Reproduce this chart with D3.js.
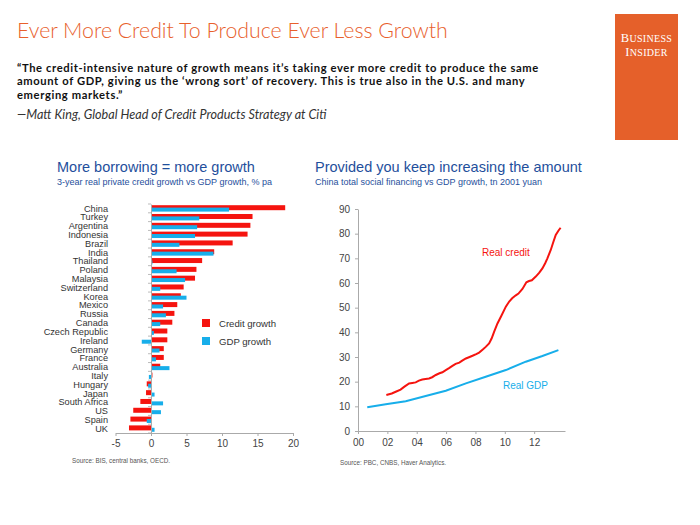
<!DOCTYPE html>
<html><head><meta charset="utf-8">
<script src="https://cdn.jsdelivr.net/npm/d3@7"></script>
<style>
html,body{margin:0;padding:0;background:#fff;}
svg{display:block;}
</style></head>
<body>
<svg id="c" width="700" height="525"></svg>
<script>
// ---- data ----
const countries = ["China","Turkey","Argentina","Indonesia","Brazil","India","Thailand","Poland","Malaysia","Switzerland","Korea","Mexico","Russia","Canada","Czech Republic","Ireland","Germany","France","Australia","Italy","Hungary","Japan","South Africa","US","Spain","UK"];
const creditGrowth = [18.9,14.3,14.0,13.6,11.5,8.9,7.2,6.4,6.2,4.6,4.2,3.7,3.3,3.0,2.3,2.3,1.8,1.8,1.3,0.2,-0.6,-0.7,-1.5,-2.5,-2.9,-3.1];
const gdpGrowth =    [11.0,6.8,6.5,6.2,4.0,8.8,0.2,3.6,4.8,1.3,5.0,1.7,2.1,1.3,0.4,-1.3,1.2,0.7,2.6,-0.3,-0.4,0.5,1.7,1.4,-0.6,0.5];
const barTicks = [-5,0,5,10,15,20];

const creditYears = [2001.93,2002.3,2002.57,2002.9,2003.14,2003.48,2003.7,2003.93,2004.15,2004.38,2004.6,2004.84,2005.05,2005.3,2005.55,2005.75,2005.98,2006.2,2006.43,2006.65,2006.9,2007.1,2007.35,2007.6,2007.8,2008.05,2008.25,2008.5,2008.7,2008.93,2009.1,2009.27,2009.5,2009.75,2010.07,2010.3,2010.5,2010.75,2010.93,2011.2,2011.47,2011.65,2011.84,2012.11,2012.35,2012.56,2012.75,2012.9,2013.13,2013.3,2013.47,2013.65,2013.8];
const creditValues = [14.6,15.2,15.9,16.8,17.9,19.3,19.5,19.7,20.4,20.9,21.1,21.3,21.8,22.7,23.4,23.8,24.7,25.5,26.4,27.2,27.7,28.5,29.4,30.0,30.5,31.2,31.8,33.0,34.1,35.5,37.5,40.2,43.6,46.5,50.4,52.5,53.8,55.0,55.7,57.6,60.3,60.8,61.1,62.6,64.2,65.9,68.0,70.0,73.4,76.5,79.5,81.2,82.4];
const gdpYears = [2000.63,2001.89,2003.25,2004.61,2005.98,2007.35,2008.7,2010.07,2011.43,2012.56,2013.65];
const gdpValues = [9.6,10.8,12.1,14.2,16.3,19.3,22.0,24.7,28.1,30.4,32.8];
const lineYTicks = [0,10,20,30,40,50,60,70,80,90];
const lineXTicks = [2000,2002,2004,2006,2008,2010,2012];
const lineXLabels = ["00","02","04","06","08","10","12"];

const RED = "#f5140f", BLUE = "#17aeea", NAVY = "#1f4f9c", ORANGE = "#e8602c", AX = "#aaaaaa";
const svg = d3.select("#c");
const F = "'Liberation Sans', Arial, sans-serif";

// ---- header ----
svg.append("text").attr("x",17).attr("y",38).attr("font-family","Lato, 'Open Sans', sans-serif")
  .attr("font-weight",300).attr("font-size",21.3).attr("fill",ORANGE)
  .text("Ever More Credit To Produce Ever Less Growth");
const quote = ["\u201cThe credit-intensive nature of growth means it\u2019s taking ever more credit to produce the same",
  "amount of GDP, giving us the \u2018wrong sort\u2019 of recovery. This is true also in the U.S. and many",
  "emerging markets.\u201d"];
quote.forEach((q,i)=>svg.append("text").attr("x",17).attr("y",71.5+i*13.5)
  .attr("font-family","Lato, 'Open Sans', sans-serif").attr("font-weight",700).attr("font-size",11.2)
  .attr("letter-spacing",0.62).attr("fill","#111").text(q));
svg.append("text").attr("x",17).attr("y",119).attr("font-family","Lato, 'Open Sans', sans-serif")
  .attr("font-style","italic").attr("font-size",12.6).attr("fill","#333")
  .text("\u2014Matt King, Global Head of Credit Products Strategy at Citi");
svg.append("rect").attr("x",615).attr("y",14).attr("width",63).attr("height",126).attr("fill","#e5602a");
["BUSINESS","INSIDER"].forEach((t,i)=>{
  const tx = svg.append("text").attr("x",646.5).attr("y",42+i*13.5).attr("text-anchor","middle")
    .attr("font-family","'Liberation Serif','DejaVu Serif',serif").attr("fill","#fff").attr("font-size",12.5)
    .attr("letter-spacing",0.3);
  tx.append("tspan").text(t[0]);
  tx.append("tspan").attr("font-size",10).text(t.slice(1));
});

// ---- left chart ----
svg.append("text").attr("x",57).attr("y",172).attr("font-family",F).attr("font-size",14.5).attr("fill",NAVY)
  .text("More borrowing = more growth");
svg.append("text").attr("x",57).attr("y",185).attr("font-family",F).attr("font-size",9).attr("fill",NAVY)
  .text("3-year real private credit growth vs GDP growth, % pa");

const xb = d3.scaleLinear().domain([-5,20]).range([115.5,293]);
const yb = d3.scaleBand().domain(countries).range([204,433]).padding(0);
const bw = yb.bandwidth();
const gb = svg.append("g");
gb.selectAll("rect.cr").data(countries).join("rect")
  .attr("x",(d,i)=>xb(Math.min(0,creditGrowth[i]))).attr("width",(d,i)=>Math.abs(xb(creditGrowth[i])-xb(0)))
  .attr("y",d=>yb(d)+1.2).attr("height",5).attr("fill",RED);
gb.selectAll("rect.gd").data(countries).join("rect")
  .attr("x",(d,i)=>xb(Math.min(0,gdpGrowth[i]))).attr("width",(d,i)=>Math.abs(xb(gdpGrowth[i])-xb(0)))
  .attr("y",d=>yb(d)+3.6).attr("height",4).attr("fill",BLUE);
const yAxisB = svg.append("g").attr("transform",`translate(${xb(0)},0)`)
  .call(d3.axisLeft(yb).tickSize(0).tickFormat(""));
yAxisB.select(".domain").attr("stroke",AX);
svg.append("g").selectAll("line").data(countries.concat(["_end"])).join("line")
  .attr("x1",xb(0)-3).attr("x2",xb(0)).attr("y1",(d,i)=>204+i*bw).attr("y2",(d,i)=>204+i*bw)
  .attr("stroke",AX).attr("stroke-width",0.8);
svg.append("g").selectAll("text").data(countries).join("text")
  .attr("x",108).attr("y",d=>yb(d)+bw/2+3.2).attr("text-anchor","end")
  .attr("font-family",F).attr("font-size",9.2).attr("fill","#333").text(d=>d);
const xAxisB = svg.append("g").attr("transform","translate(0,433)")
  .call(d3.axisBottom(xb).tickValues(barTicks).tickFormat(d=>String(d)).tickSize(3).tickSizeOuter(0).tickPadding(4));
xAxisB.select(".domain").attr("stroke",AX);
xAxisB.selectAll("line").attr("stroke",AX);
xAxisB.selectAll("text").attr("font-family",F).attr("font-size",10).attr("fill","#444");
const leg = [["Credit growth",RED],["GDP growth",BLUE]];
leg.forEach((l,i)=>{
  svg.append("rect").attr("x",202).attr("y",319+i*18).attr("width",8).attr("height",8).attr("fill",l[1]);
  svg.append("text").attr("x",219).attr("y",327+i*18).attr("font-family",F).attr("font-size",9.6).attr("fill","#333").text(l[0]);
});
svg.append("text").attr("x",72).attr("y",463).attr("font-family",F).attr("font-size",6.3).attr("fill","#555")
  .text("Source: BIS, central banks, OECD.");

// ---- right chart ----
svg.append("text").attr("x",315).attr("y",172).attr("font-family",F).attr("font-size",14.5).attr("fill",NAVY)
  .text("Provided you keep increasing the amount");
svg.append("text").attr("x",315).attr("y",185).attr("font-family",F).attr("font-size",9).attr("fill",NAVY)
  .text("China total social financing vs GDP growth, tn 2001 yuan");

const xl = d3.scaleLinear().domain([2000,2014.1]).range([358,565]);
const yl = d3.scaleLinear().domain([0,90]).range([431,209]);
const yAxL = svg.append("g").attr("transform","translate(358,0)")
  .call(d3.axisLeft(yl).tickValues(lineYTicks).tickSize(3).tickSizeOuter(0).tickPadding(5));
yAxL.select(".domain").attr("stroke",AX);
yAxL.selectAll("line").attr("stroke",AX);
yAxL.selectAll("text").attr("font-family",F).attr("font-size",10).attr("fill","#444");
const xAxL = svg.append("g").attr("transform","translate(0,431)")
  .call(d3.axisBottom(xl).tickValues(lineXTicks).tickFormat((d,i)=>lineXLabels[i]).tickSize(3).tickSizeOuter(0).tickPadding(5));
xAxL.select(".domain").attr("stroke",AX);
xAxL.selectAll("line").attr("stroke",AX);
xAxL.selectAll("text").attr("font-family",F).attr("font-size",10).attr("fill","#444");

const line = d3.line().x(d=>xl(d[0])).y(d=>yl(d[1]));
svg.append("path").datum(gdpYears.map((y,i)=>[y,gdpValues[i]])).attr("d",line)
  .attr("fill","none").attr("stroke",BLUE).attr("stroke-width",2);
svg.append("path").datum(creditYears.map((y,i)=>[y,creditValues[i]])).attr("d",line)
  .attr("fill","none").attr("stroke",RED).attr("stroke-width",2);
svg.append("text").attr("x",482).attr("y",256).attr("font-family",F).attr("font-size",10).attr("fill",RED).text("Real credit");
svg.append("text").attr("x",503).attr("y",389).attr("font-family",F).attr("font-size",10).attr("fill",BLUE).text("Real GDP");
svg.append("text").attr("x",340).attr("y",465).attr("font-family",F).attr("font-size",6.3).attr("fill","#555")
  .text("Source: PBC, CNBS, Haver Analytics.");
</script>
</body></html>
